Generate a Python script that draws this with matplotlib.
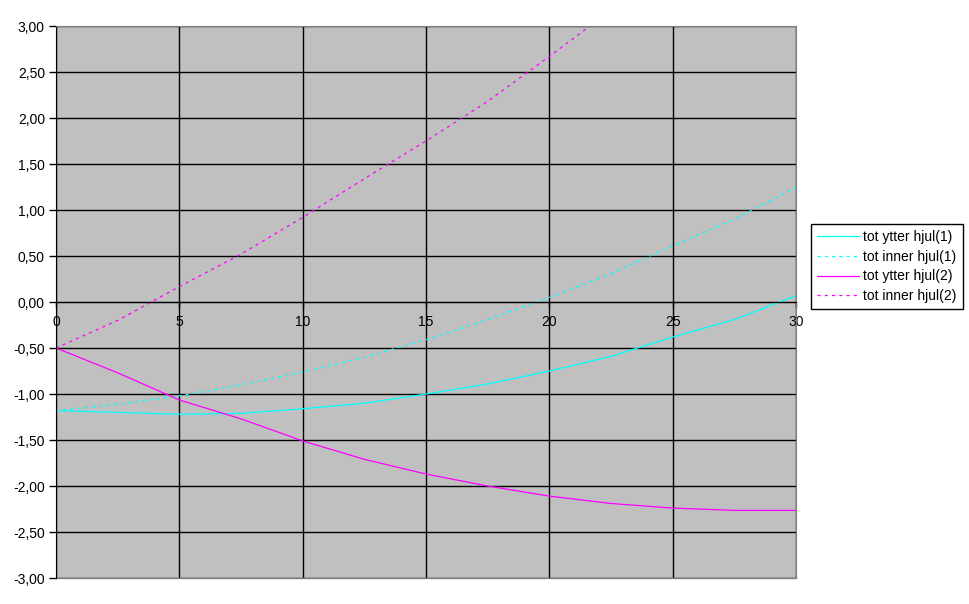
import numpy as np
import matplotlib
matplotlib.use('Agg')
import matplotlib.pyplot as plt
from matplotlib.ticker import FuncFormatter, MultipleLocator

# data
x = [0, 2.5, 5, 7.5, 10, 12.5, 15, 17.5, 20, 22.5, 25, 27.5, 30]
ytter_1 = [-1.18, -1.20, -1.22, -1.21, -1.16, -1.10, -1.00, -0.89, -0.75, -0.59, -0.38, -0.19, 0.07]
inner_1 = [-1.18, -1.11, -1.02, -0.90, -0.76, -0.60, -0.41, -0.19, 0.05, 0.31, 0.61, 0.90, 1.25]
ytter_2 = [-0.50, -0.77, -1.065, -1.27, -1.51, -1.71, -1.87, -2.00, -2.11, -2.19, -2.24, -2.265, -2.265]
inner_2 = [-0.50, -0.20, 0.167, 0.52, 0.92, 1.34, 1.75, 2.18, 2.67, 3.17, np.nan, np.nan, np.nan]
labels = ['tot ytter hjul(1)', 'tot inner hjul(1)', 'tot ytter hjul(2)', 'tot inner hjul(2)']

plt.rcParams['font.family'] = ['Liberation Sans', 'DejaVu Sans']
plt.rcParams['font.size'] = 10

fig = plt.figure(figsize=(9.7, 6.04), dpi=100)
ax = fig.add_axes([56/970, 26/604, 740/970, 552/604])
ax.set_facecolor('#c0c0c0')

dash = (0, (2.5, 3.3))
ax.plot(x, ytter_1, color='#00ffff', lw=0.9, label=labels[0])
ax.plot(x, inner_1, color='#00ffff', lw=0.9, linestyle=dash, label=labels[1])
ax.plot(x, ytter_2, color='#ff00ff', lw=0.9, label=labels[2])
ax.plot(x, inner_2, color='#ff00ff', lw=0.9, linestyle=dash, label=labels[3])

ax.set_xlim(0, 30)
ax.set_ylim(-3, 3)
ax.xaxis.set_major_locator(MultipleLocator(5))
ax.yaxis.set_major_locator(MultipleLocator(0.5))
ax.yaxis.set_major_formatter(FuncFormatter(lambda v, p: ('%.2f' % v).replace('.', ',')))
ax.grid(True, color='black', lw=1.0)
ax.set_axisbelow(True)

# x axis crosses at y=0, like the spreadsheet chart
ax.spines['bottom'].set_position(('data', 0))
ax.spines['bottom'].set_color('black')
ax.spines['left'].set_color('black')
for s in ['top', 'right']:
    ax.spines[s].set_color('#808080')
ax.axhline(-3, color='#808080', lw=1.0, clip_on=False)
ax.tick_params(axis='x', direction='out', length=4, pad=5, width=1.0)
ax.tick_params(axis='y', direction='out', length=5, pad=3, width=1.0)

leg = fig.legend(loc='upper left', bbox_to_anchor=(811/970, 1 - 224/604),
                 borderaxespad=0, fancybox=False, edgecolor='black', framealpha=1,
                 handlelength=3.0, handletextpad=0.3, labelspacing=0.4,
                 borderpad=0.45, fontsize=10)
leg.get_frame().set_linewidth(1.0)

fig.savefig('out.png', dpi=100)
